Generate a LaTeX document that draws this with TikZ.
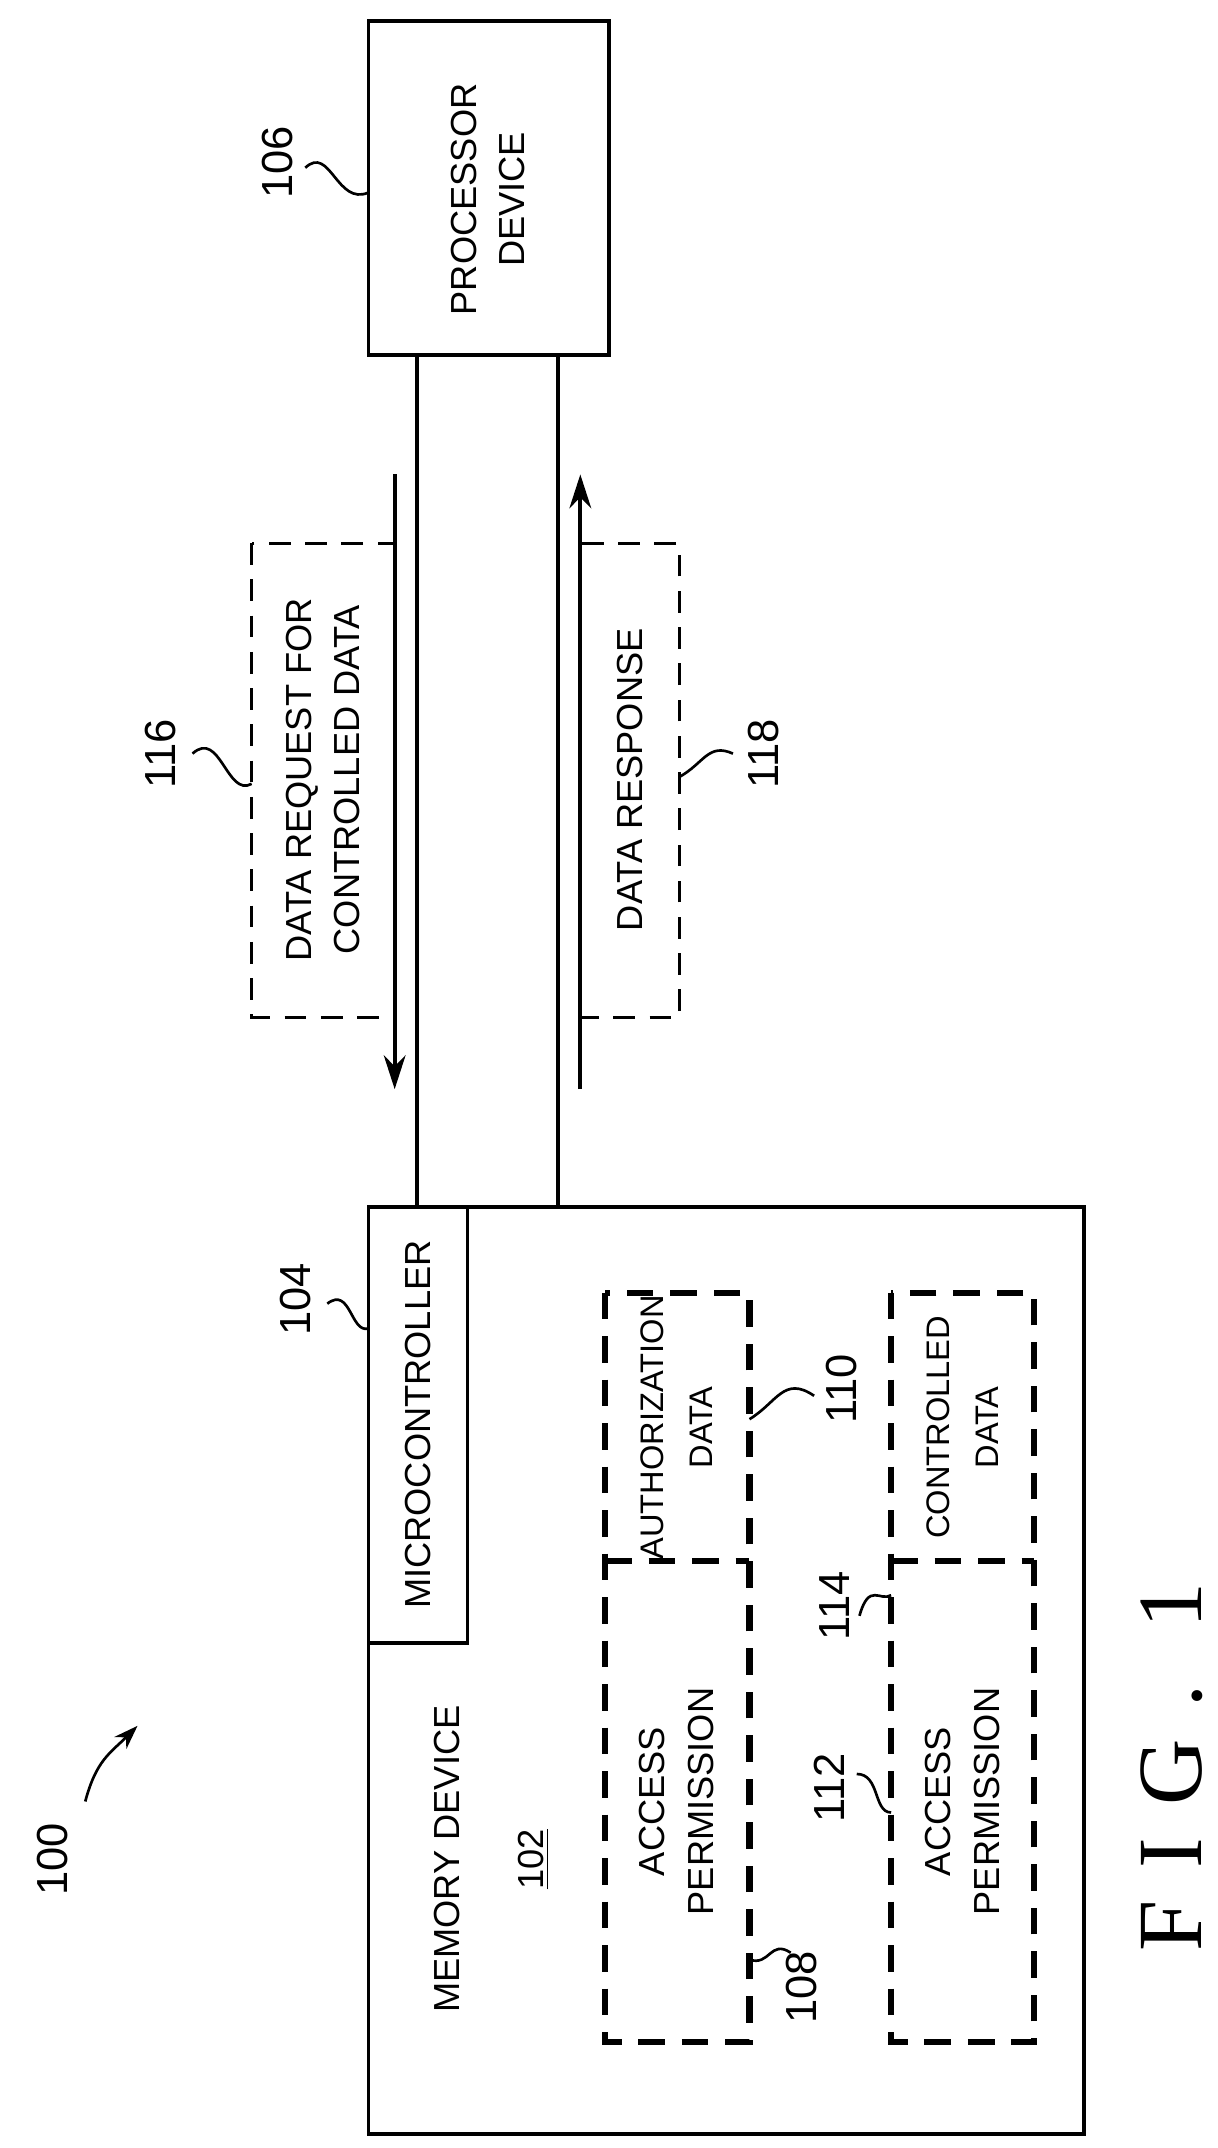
\documentclass[tikz,border=0pt]{standalone}
\usepackage{fontspec}
\setmainfont{Liberation Sans}
\newfontfamily\figfont[LetterSpace=35]{Liberation Serif}
\usetikzlibrary{arrows.meta}
\begin{document}
\begin{tikzpicture}[x=0.02cm,y=-0.02cm,
  box/.style={draw,line width=1.6pt},
  dbox/.style={draw,line width=1.3pt,dash pattern=on 9pt off 6pt},
  tdbox/.style={draw,line width=2.6pt,dash pattern=on 11pt off 7pt},
  txt/.style={rotate=90,font=\fontsize{15}{20}\selectfont,align=center,inner sep=0},
  stxt/.style={txt,font=\fontsize{13.5}{20}\selectfont},
  lbl/.style={rotate=90,font=\fontsize{18}{22}\selectfont,inner sep=0},
  lead/.style={line width=1.1pt},
  arr/.style={line width=1.6pt,-{Stealth[length=14pt,width=9pt]}}]
\useasboundingbox (0,0) rectangle (885,1562);
% processor
\draw[box] (268,15) rectangle (443,258);
\node[txt] (proct) at (355,145) {PROCESSOR\\DEVICE};
\node[lbl] (l106) at (202,118) {106};
\coordinate (p106a) at (222,122); \coordinate (p106b) at (268,140);
\draw[lead] (p106a) .. controls (240,105) and (245,150) .. (p106b);
% bus lines
\coordinate (b1t) at (303,258); \coordinate (b1b) at (303,878);
\coordinate (b2t) at (406,258); \coordinate (b2b) at (406,878);
\draw[box] (b1t) -- (b1b); \draw[box] (b2t) -- (b2b);
% arrows
\coordinate (a1s) at (287,345); \coordinate (a1e) at (287,792);
\coordinate (a2s) at (422,792); \coordinate (a2e) at (422,345);
\draw[arr] (a1s) -- (a1e); \draw[arr] (a2s) -- (a2e);
% dashed message boxes
\draw[dbox] (183,395) rectangle (287,740);
\node[txt] (req) at (235,567) {DATA REQUEST FOR\\CONTROLLED DATA};
\draw[dbox] (422,395) rectangle (494,740);
\node[txt] (resp) at (458,567) {DATA RESPONSE};
\node[lbl] (l116) at (117,548) {116};
\coordinate (p116a) at (140,548); \coordinate (p116b) at (183,570);
\draw[lead] (p116a) .. controls (160,530) and (165,580) .. (p116b);
\node[lbl] (l118) at (555,548) {118};
\coordinate (p118a) at (494,565); \coordinate (p118b) at (533,548);
\draw[lead] (p118a) .. controls (512,555) and (515,540) .. (p118b);
% memory device
\draw[box] (268,878) rectangle (788,1552);
\draw[box] (268,878) rectangle (340,1195);
\node[txt] (mc) at (304,1036) {MICROCONTROLLER};
\node[lbl] (l104) at (215,945) {104};
\coordinate (p104a) at (238,948); \coordinate (p104b) at (268,966);
\draw[lead] (p104a) .. controls (255,935) and (255,970) .. (p104b);
\node[txt] (md) at (325,1352) {MEMORY DEVICE};
\node[txt] (n102) at (388,1352) {\underline{102}};
% inner dashed boxes
\draw[tdbox] (440,940) rectangle (545,1485);
\draw[tdbox] (440,1135) -- (545,1135);
\draw[tdbox] (648,940) rectangle (752,1485);
\draw[tdbox] (648,1135) -- (752,1135);
\node[stxt] (auth) at (492,1038) {AUTHORIZATION\\DATA};
\node[txt] (ap1) at (492,1310) {ACCESS\\PERMISSION};
\node[stxt] (cd) at (700,1038) {CONTROLLED\\DATA};
\node[txt] (ap2) at (700,1310) {ACCESS\\PERMISSION};
\node[lbl] (l110) at (612,1010) {110};
\coordinate (p110a) at (545,1032); \coordinate (p110b) at (592,1015);
\draw[lead] (p110a) .. controls (565,1020) and (570,1000) .. (p110b);
\node[lbl] (l114) at (607,1168) {114};
\coordinate (p114a) at (625,1175); \coordinate (p114b) at (648,1160);
\draw[lead] (p114a) .. controls (632,1150) and (640,1165) .. (p114b);
\node[lbl] (l112) at (603,1300) {112};
\coordinate (p112a) at (623,1290); \coordinate (p112b) at (648,1318);
\draw[lead] (p112a) .. controls (640,1290) and (635,1318) .. (p112b);
\node[lbl] (l108) at (583,1445) {108};
\coordinate (p108a) at (545,1425); \coordinate (p108b) at (575,1420);
\draw[lead] (p108a) .. controls (560,1430) and (560,1410) .. (p108b);
% 100
\node[lbl] (l100) at (38,1352) {100};
\coordinate (p100a) at (62,1310); \coordinate (p100b) at (100,1255);
\draw[lead,-{Stealth[length=10pt,width=7pt]}] (p100a) .. controls (70,1280) and (80,1275) .. (p100b);
% fig
\node[rotate=90,font=\figfont\fontsize{38}{42}\selectfont,inner sep=0] (fig) at (852,1285) {FIG. 1};
\end{tikzpicture}
\end{document}
